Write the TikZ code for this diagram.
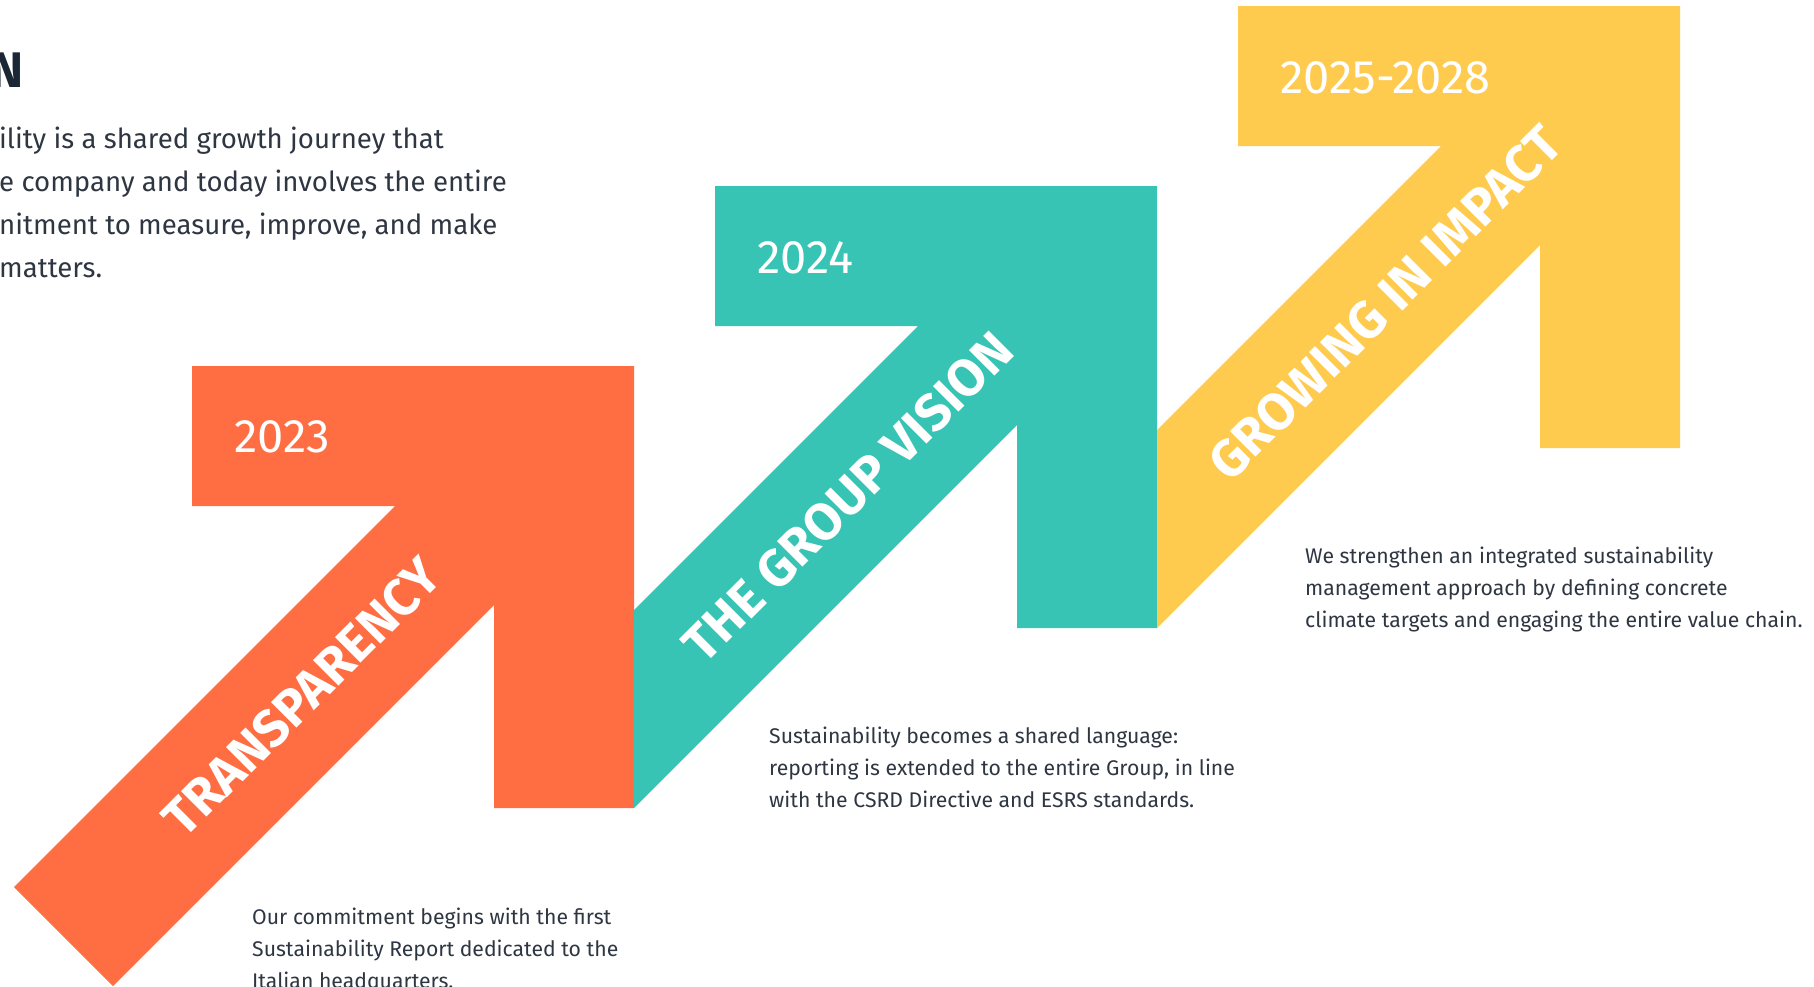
\documentclass[tikz,border=0pt]{standalone}
\usepackage{fontspec}
\setmainfont{Fira Sans}
\definecolor{orng}{HTML}{FF6D43}
\definecolor{teal2}{HTML}{38C4B5}
\definecolor{yell}{HTML}{FECB4F}
\definecolor{bodytxt}{HTML}{2E3642}
\definecolor{headtxt}{HTML}{1C2735}
\tikzset{
  year/.style={anchor=west, inner sep=0pt, text=white, font=\fontsize{47}{47}\selectfont},
  band/.style={rotate=45, inner sep=0pt, text=white, font=\bfseries\fontsize{52}{52}\selectfont},
  desc/.style={anchor=north west, inner sep=0pt, align=left, text=bodytxt, font=\fontsize{21.2}{32}\selectfont},
  intro/.style={anchor=north west, inner sep=0pt, align=left, text=bodytxt, font=\fontsize{27.6}{43}\selectfont},
}
\begin{document}
\begin{tikzpicture}[x=1pt,y=-1pt]
\path[use as bounding box] (0,0) rectangle (1814,986);
\clip (0,0) rectangle (1814,986);
\fill[white] (0,0) rectangle (1814,986);
% orange arrow
\fill[orng] (192,366) -- (634,366) -- (634,808) -- (494,808) -- (494,605) -- (113,986) -- (14,887) -- (395,506) -- (192,506) -- cycle;
% teal arrow
\fill[teal2] (715,186) -- (1157,186) -- (1157,628) -- (1017,628) -- (1017,425) -- (634,808) -- (634,610) -- (918,326) -- (715,326) -- cycle;
% yellow arrow
\fill[yell] (1238,6) -- (1680,6) -- (1680,448) -- (1540,448) -- (1540,245) -- (1157,628) -- (1157,430) -- (1441,146) -- (1238,146) -- cycle;
% years
\node[year] (y23) at (234,437) {2023};
\node[year] (y24) at (757,258) {2024};
\node[year] (y25) at (1280,78) {2025-2028};
% band labels
\node[band] (l1) at (302,697) {TRANSPARENCY};
\node[band] (l2) at (848,497) {THE GROUP VISION};
\node[band] (l3) at (1385,303) {GROWING IN IMPACT};
% descriptions
\node[desc] (d1) at (252,908) {Our commitment begins with the first\\Sustainability Report dedicated to the\\Italian headquarters.};
\node[desc] (d2) at (769,727) {Sustainability becomes a shared language:\\reporting is extended to the entire Group, in line\\with the CSRD Directive and ESRS standards.};
\node[desc] (d3) at (1305,547) {We strengthen an integrated sustainability\\management approach by defining concrete\\climate targets and engaging the entire value chain.};
% heading and intro
\node[anchor=base east, inner sep=0pt, text=headtxt, font=\bfseries\fontsize{50}{50}\selectfont] (hd) at (24,87) {N};
\node[intro] (in) at (-1,127) {ility is a shared growth journey that\\e company and today involves the entire\\nitment to measure, improve, and make\\matters.};
\end{tikzpicture}
\end{document}
